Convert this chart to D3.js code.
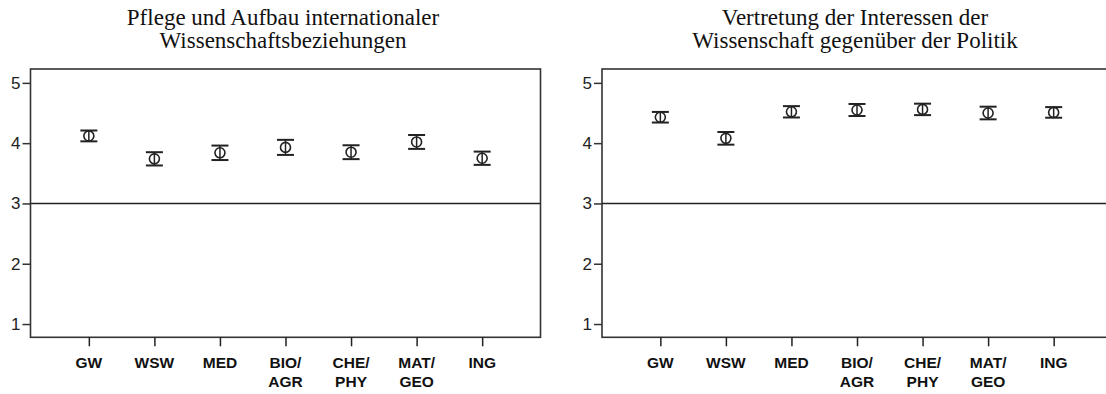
<!DOCTYPE html>
<html><head><meta charset="utf-8">
<script src="https://cdn.jsdelivr.net/npm/d3@7"></script>
<style>body{margin:0;background:#fff}svg{display:block}</style>
</head><body>
<svg id="c" width="1106" height="394"></svg>
<script>
const categories = ["GW","WSW","MED","BIO/AGR","CHE/PHY","MAT/GEO","ING"];
const yTicks = [1,2,3,4,5];
const titleLeft = ["Pflege und Aufbau internationaler","Wissenschaftsbeziehungen"];
const titleRight = ["Vertretung der Interessen der","Wissenschaft gegenüber der Politik"];
const meansLeft = [4.12,3.74,3.84,3.93,3.85,4.02,3.75];
const errLeft   = [0.09,0.11,0.12,0.125,0.115,0.115,0.11];
const meansRight = [4.43,4.08,4.52,4.55,4.56,4.50,4.51];
const errRight   = [0.088,0.105,0.094,0.10,0.095,0.105,0.088];
const refValue = 3;

const svg = d3.select("#c");
const col = "#222";

function panel(x0, x1, tcx, title, means, errs){
  const g = svg.append("g");
  const y = d3.scaleLinear().domain([0.78,5.23]).range([337.3,69]);
  const x = d3.scalePoint().domain(categories).range([x0,x1]).padding(0.89);
  // title
  const t = g.append("text").attr("text-anchor","middle")
    .attr("font-family","'Liberation Serif','DejaVu Serif',serif").attr("font-size",23).attr("fill","#111");
  title.forEach((s,i)=>t.append("tspan").attr("x",tcx).attr("y",25+i*23).text(s));
  // frame
  g.append("rect").attr("x",x0).attr("y",y.range()[1]).attr("width",x1-x0)
    .attr("height",y.range()[0]-y.range()[1]).attr("fill","none").attr("stroke","#333").attr("stroke-width",1.6);
  // ref line
  g.append("line").attr("x1",x0).attr("x2",x1).attr("y1",y(refValue)).attr("y2",y(refValue))
    .attr("stroke","#222").attr("stroke-width",1.6);
  // y axis
  const ya = g.append("g").attr("transform",`translate(${x0},0)`)
    .call(d3.axisLeft(y).tickValues(yTicks).tickSize(8).tickPadding(2).tickFormat(d3.format("d")));
  ya.select(".domain").remove();
  ya.selectAll("line").attr("stroke","#333").attr("stroke-width",1.5);
  ya.selectAll("text").attr("font-family","'Liberation Sans',Arial,sans-serif").attr("font-size",17).attr("fill","#222");
  // x axis
  const xa = g.append("g").attr("transform",`translate(0,${y.range()[0]})`)
    .call(d3.axisBottom(x).tickSize(9).tickFormat(""));
  xa.select(".domain").remove();
  xa.selectAll("line").attr("stroke","#222").attr("stroke-width",1.5);
  categories.forEach(c=>{
    const parts = c.includes("/") ? [c.split("/")[0]+"/", c.split("/")[1]] : [c];
    const tt = g.append("text").attr("text-anchor","middle")
      .attr("font-family","'Liberation Sans',Arial,sans-serif").attr("font-weight","bold")
      .attr("font-size",15.5).attr("fill","#111");
    parts.forEach((p,i)=>tt.append("tspan").attr("x",x(c)).attr("y",368+i*19).text(p));
  });
  // error bars and points
  categories.forEach((c,i)=>{
    const px = x(c), m = means[i], e = errs[i];
    g.append("line").attr("x1",px).attr("x2",px).attr("y1",y(m+e)).attr("y2",y(m-e))
      .attr("stroke",col).attr("stroke-width",1.5);
    [m+e,m-e].forEach(v=>g.append("line").attr("x1",px-8.5).attr("x2",px+8.5)
      .attr("y1",y(v)).attr("y2",y(v)).attr("stroke",col).attr("stroke-width",2));
    g.append("circle").attr("cx",px).attr("cy",y(m)).attr("r",5)
      .attr("fill","none").attr("stroke",col).attr("stroke-width",1.6);
  });
}
panel(30.5,540.5,283,titleLeft,meansLeft,errLeft);
panel(602,1112,855,titleRight,meansRight,errRight);
</script>
</body></html>
